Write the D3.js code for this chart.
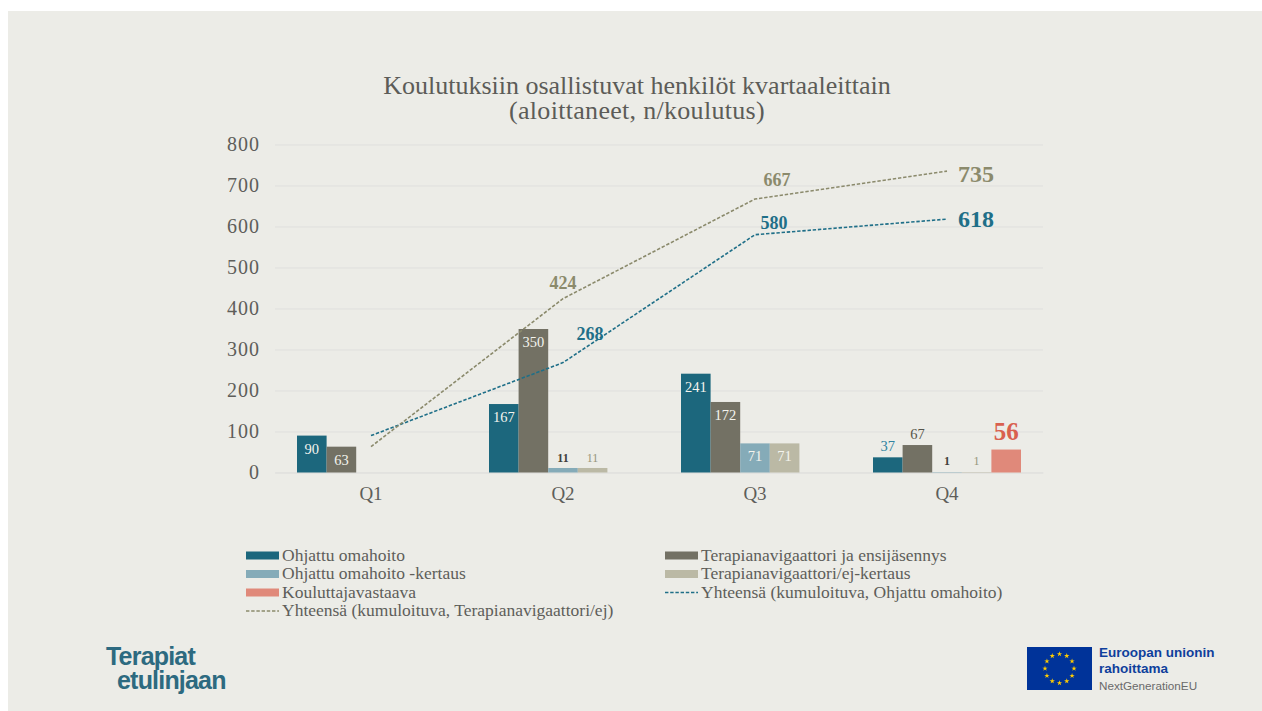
<!DOCTYPE html>
<html lang="fi">
<head>
<meta charset="utf-8">
<script src="https://cdn.jsdelivr.net/npm/d3@7/dist/d3.min.js"></script>
<style>
html,body{margin:0;padding:0;background:#fff;overflow:hidden}
svg{display:block}
text{font-family:"Liberation Serif",serif}
</style>
</head>
<body>
<svg id="c" width="1262" height="711"></svg>
<script>
const quarters = ["Q1","Q2","Q3","Q4"];
const yTicks = [0,100,200,300,400,500,600,700,800];
const titleLines = ["Koulutuksiin osallistuvat henkilöt kvartaaleittain","(aloittaneet, n/koulutus)"];
const ohjattu = [90,167,241,37];
const terapia = [63,350,172,67];
const ohjattuKertaus = [null,11,71,1];
const terapiaKertaus = [null,11,71,1];
const kouluttaja = [null,null,null,56];
const kumulTerapia = [63,424,667,735];
const kumulOhjattu = [90,268,580,618];
const barNames = ["Ohjattu omahoito","Terapianavigaattori ja ensijäsennys","Ohjattu omahoito -kertaus","Terapianavigaattori/ej-kertaus","Kouluttajavastaava"];
const lineNames = ["Yhteensä (kumuloituva, Ohjattu omahoito)","Yhteensä (kumuloituva, Terapianavigaattori/ej)"];
const legendOrder = ["Ohjattu omahoito","Terapianavigaattori ja ensijäsennys","Ohjattu omahoito -kertaus","Terapianavigaattori/ej-kertaus","Kouluttajavastaava","Yhteensä (kumuloituva, Ohjattu omahoito)","Yhteensä (kumuloituva, Terapianavigaattori/ej)"];
const logoLines = ["Terapiat","etulinjaan"];
const euLines = ["Euroopan unionin","rahoittama"];
const euSub = "NextGenerationEU";

const barSeries = [ohjattu,terapia,ohjattuKertaus,terapiaKertaus,kouluttaja];
const barColors = ["#1c677d","#737164","#85abb8","#bbb9a5","#e0897a"];
const lineColors = ["#1f6f88","#8b8a6c"];
const ink = "#5e5e5a";

const svg = d3.select("#c");
svg.append("rect").attr("x",8).attr("y",11).attr("width",1254).attr("height",700).attr("fill","#ecece7");

const x0 = d3.scaleBand().domain(quarters).range([275,1043]).paddingInner(44/192).paddingOuter(22/192);
const x1 = d3.scaleBand().domain(d3.range(5)).range([0,x0.bandwidth()]);
const y = d3.scaleLinear().domain([0,800]).range([472.5,144.5]);

// title
svg.append("g").selectAll("text").data(titleLines).join("text")
  .attr("x",637).attr("y",(d,i)=>94+i*25).attr("text-anchor","middle")
  .attr("font-size",26).attr("letter-spacing",(d,i)=>i?0.3:0).attr("fill","#5c5c58").text(d=>d);

// y axis + gridlines
const yAxis = svg.append("g").attr("transform","translate(275,0)")
  .call(d3.axisLeft(y).tickValues(yTicks).tickSize(-768).tickPadding(15));
yAxis.select(".domain").remove();
yAxis.selectAll(".tick line").attr("stroke","#dfdfdd").attr("stroke-width",1);
yAxis.selectAll(".tick text").attr("font-size",20).attr("letter-spacing",1).attr("fill",ink).attr("font-family","Liberation Serif");

// x axis
const xAxis = svg.append("g").attr("transform","translate(0,472.5)")
  .call(d3.axisBottom(x0).tickSize(0).tickPadding(14));
xAxis.select(".domain").attr("stroke","#dfdfdd");
xAxis.selectAll(".tick text").attr("font-size",19).attr("fill",ink).attr("font-family","Liberation Serif");

// bars
barSeries.forEach((vals,s)=>{
  const g = svg.append("g");
  const rows = vals.map((v,i)=>({v,q:quarters[i]})).filter(d=>d.v!==null);
  g.selectAll("rect").data(rows).join("rect")
    .attr("x",d=>x0(d.q)+x1(s)).attr("y",d=>y(d.v))
    .attr("width",x1.bandwidth()).attr("height",d=>y(0)-y(d.v))
    .attr("fill",barColors[s]);
});

// lines
const line = d3.line().x((d,i)=>x0(quarters[i])+x0.bandwidth()/2).y(d=>y(d));
[kumulOhjattu,kumulTerapia].forEach((vals,k)=>{
  svg.append("path").datum(vals).attr("d",line).attr("fill","none")
    .attr("stroke",lineColors[k]).attr("stroke-width",1.6).attr("stroke-dasharray","3.4 1.8");
});

// bar labels
const outsideColors = ["#2f83a0","#55544a","#3f3f3a","#96957a","#d9604f"];
barSeries.forEach((vals,s)=>{
  vals.forEach((v,i)=>{
    if(v===null) return;
    const outside = v<12 || quarters[i]==="Q4";
    const big = s===4;
    const tiny = v<12;
    const base = tiny && v===1 ? y(0)-8 : outside ? y(v)-(big?10:6) : y(v)+18;
    svg.append("text")
      .attr("x",x0(quarters[i])+x1(s)+x1.bandwidth()/2)
      .attr("y",base).attr("text-anchor","middle")
      .attr("font-size",big?25:(tiny?12:14.5))
      .attr("font-weight",big||(tiny&&s===2)?"700":"400")
      .attr("fill",outside?outsideColors[s]:"#f4f4ee").text(v);
  });
});

// line labels
const lineLabelOffsets = [[null,[27,-23],[19,-6],[29,8]],[null,[0,-10],[22,-13],[29,11]]];
[kumulOhjattu,kumulTerapia].forEach((vals,k)=>{
  vals.forEach((v,i)=>{
    const off = lineLabelOffsets[k][i];
    if(!off) return;
    const last = i===3;
    svg.append("text")
      .attr("x",x0(quarters[i])+x0.bandwidth()/2+off[0])
      .attr("y",y(v)+off[1])
      .attr("text-anchor","middle").attr("font-weight",700)
      .attr("font-size",last?24:18).attr("fill",lineColors[k]).text(v);
  });
});

// legend
const legendPos = [[246,555.5],[665,555.5],[246,574],[665,574],[246,592.5],[665,592.5],[246,611]];
legendOrder.forEach((name,i)=>{
  const [lx,ly] = legendPos[i];
  const b = barNames.indexOf(name);
  if(b>=0){
    svg.append("rect").attr("x",lx).attr("y",ly-4).attr("width",33).attr("height",8).attr("fill",barColors[b]);
  } else {
    const c = lineColors[lineNames.indexOf(name)];
    svg.append("line").attr("x1",lx).attr("x2",lx+33).attr("y1",ly).attr("y2",ly)
      .attr("stroke",c).attr("stroke-width",1.4).attr("stroke-dasharray","3.4 1.8");
  }
  svg.append("text").attr("x",lx+36).attr("y",ly+5).attr("font-size",17.5).attr("fill",ink).text(name);
});

// left logo
svg.append("g").selectAll("text").data(logoLines).join("text")
  .attr("x",(d,i)=>i?117:106).attr("y",(d,i)=>i?689:665)
  .attr("font-size",25).attr("font-weight",700).attr("letter-spacing",-0.8)
  .attr("fill","#2d6a80").style("font-family","Liberation Sans").text(d=>d);

// EU emblem
svg.append("rect").attr("x",1027).attr("y",647).attr("width",65).attr("height",43).attr("fill","#003399");
const star = d3.symbol().type(d3.symbolStar).size(9);
svg.append("g").selectAll("path").data(d3.range(12)).join("path")
  .attr("d",star).attr("fill","#ffcc00")
  .attr("transform",d=>{
    const a=d/12*2*Math.PI;
    return `translate(${1059.5+14.5*Math.sin(a)},${668.5-14.5*Math.cos(a)})`;
  });
svg.append("g").selectAll("text").data(euLines).join("text")
  .attr("x",1099).attr("y",(d,i)=>657+i*16)
  .attr("font-size",13.5).attr("font-weight",700).attr("fill","#0f3f9c")
  .style("font-family","Liberation Sans").text(d=>d);
svg.append("text").attr("x",1099).attr("y",690).attr("font-size",11.7).attr("fill","#6a6a6a")
  .style("font-family","Liberation Sans").text(euSub);
</script>
</body>
</html>
